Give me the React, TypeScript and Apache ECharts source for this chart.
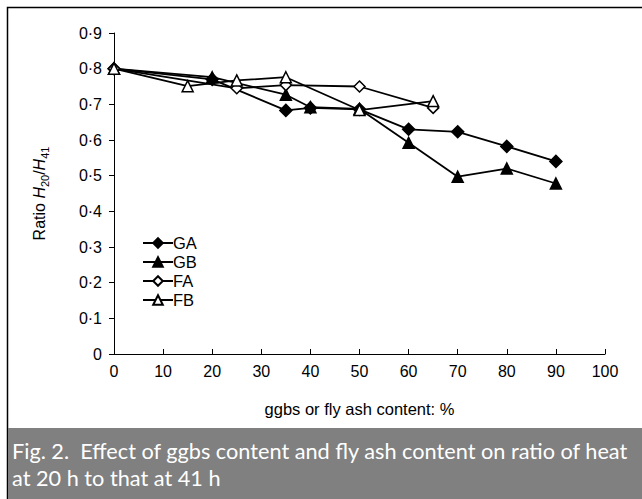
import React, { useEffect, useRef } from "react";
import * as echarts from "echarts";

const seriesNames = ["GA", "GB", "FA", "FB"];
const gaX = [0, 20, 35, 40, 50, 60, 70, 80, 90];
const gaY = [0.8, 0.77, 0.683, 0.69, 0.686, 0.63, 0.623, 0.582, 0.54];
const gbX = [0, 20, 35, 40, 50, 60, 70, 80, 90];
const gbY = [0.8, 0.776, 0.727, 0.692, 0.687, 0.592, 0.497, 0.52, 0.478];
const faX = [0, 25, 35, 50, 65];
const faY = [0.8, 0.745, 0.754, 0.75, 0.69];
const fbX = [0, 15, 25, 35, 50, 65];
const fbY = [0.8, 0.751, 0.767, 0.776, 0.684, 0.709];
const caption1 = "Fig. 2.  Effect of ggbs content and fly ash content on ratio of heat";
const caption2 = "at 20 h to that at 41 h";

const zip = (xs: number[], ys: number[]) => xs.map((x, i) => [x, ys[i]]);

export default function App() {
  const ref = useRef<HTMLDivElement>(null);
  useEffect(() => {
    if (!ref.current) return;
    const chart = echarts.init(ref.current, null, { renderer: "svg" });
    const mk = (name: string, data: number[][], symbol: string, filled: boolean, size: number) => ({
      name,
      type: "line",
      data,
      symbol,
      symbolSize: size,
      showAllSymbol: true,
      lineStyle: { color: "#000", width: 1.8 },
      itemStyle: { color: filled ? "#000" : "#fff", borderColor: "#000", borderWidth: 1.5 },
      z: 3,
    });
    chart.setOption({
      animation: false,
      backgroundColor: "#fff",
      textStyle: { fontFamily: "Liberation Sans, Arial, sans-serif" },
      grid: { left: 114, top: 33, right: 37, bottom: 145, containLabel: false },
      legend: {
        orient: "vertical",
        left: 137,
        top: 229,
        itemWidth: 30,
        itemHeight: 12,
        itemGap: 1,
        data: seriesNames,
        textStyle: { fontSize: 16.5, color: "#000", padding: [0, 0, 0, -5], lineHeight: 18 },
      },
      xAxis: {
        type: "value",
        min: 0,
        max: 100,
        interval: 10,
        name: "ggbs or fly ash content: %",
        nameLocation: "middle",
        nameGap: 46,
        nameTextStyle: { fontSize: 16.5, color: "#000" },
        axisLine: { lineStyle: { color: "#000", width: 1 } },
        axisTick: { inside: true, length: 5, lineStyle: { color: "#000" } },
        axisLabel: { fontSize: 16, color: "#000", margin: 9 },
        splitLine: { show: false },
      },
      yAxis: {
        type: "value",
        min: 0,
        max: 0.9,
        interval: 0.1,
        name: "{r|Ratio }{i|H}{s|20}{r|/}{i|H}{s|41}",
        nameLocation: "middle",
        nameGap: 64,
        nameTextStyle: {
          color: "#000",
          rich: {
            r: { fontSize: 16, color: "#000", fontFamily: "Liberation Sans" },
            i: { fontSize: 16, color: "#000", fontStyle: "italic", fontFamily: "Liberation Sans" },
            s: { fontSize: 11, color: "#000", fontFamily: "Liberation Sans", padding: [10, 0, 0, 0] },
          },
        },
        axisLine: { show: true, lineStyle: { color: "#000", width: 1 } },
        axisTick: { show: true, length: 5, lineStyle: { color: "#000" } },
        axisLabel: {
          fontSize: 16,
          color: "#000",
          margin: 12,
          formatter: (v: number) => (v === 0 ? "0" : v.toFixed(1).replace(".", "·")),
        },
        splitLine: { show: false },
      },
      series: [
        mk("GA", zip(gaX, gaY), "diamond", true, 12),
        mk("GB", zip(gbX, gbY), "triangle", true, 11),
        mk("FA", zip(faX, faY), "diamond", false, 11),
        mk("FB", zip(fbX, fbY), "triangle", false, 11),
      ],
      graphic: [
        {
          type: "rect",
          shape: { x: 7.5, y: 7.5, width: 640, height: 500 },
          style: { fill: "none", stroke: "#000", lineWidth: 1.5 },
          z: 0,
        },
        {
          type: "rect",
          shape: { x: 8, y: 428, width: 634, height: 71 },
          style: { fill: "#808080" },
          z: 0,
        },
        {
          type: "text",
          x: 12,
          y: 440,
          style: { text: caption1, fill: "#fff", font: "21.7px Lato, sans-serif" },
          z: 1,
        },
        {
          type: "text",
          x: 12,
          y: 467,
          style: { text: caption2, fill: "#fff", font: "21.7px Lato, sans-serif" },
          z: 1,
        },
      ],
    });
    return () => chart.dispose();
  }, []);
  return <div ref={ref} style={{ position: "absolute", left: 0, top: 0, width: 642, height: 499 }} />;
}
